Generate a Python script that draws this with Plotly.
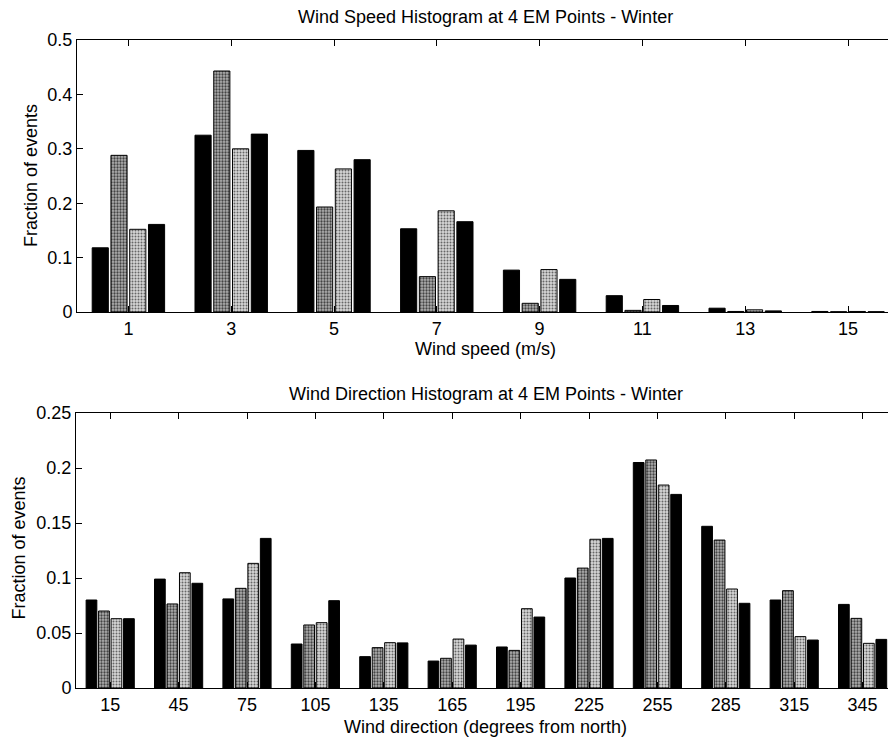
import plotly.graph_objects as go

# ---------------- data ----------------
speed_bins = [1, 3, 5, 7, 9, 11, 13, 15]
speed_p1 = [0.118, 0.325, 0.297, 0.153, 0.077, 0.030, 0.007, 0.001]
speed_p2 = [0.288, 0.443, 0.193, 0.065, 0.016, 0.003, 0.001, 0.0005]
speed_p3 = [0.152, 0.300, 0.263, 0.186, 0.078, 0.023, 0.004, 0.001]
speed_p4 = [0.161, 0.327, 0.280, 0.166, 0.060, 0.012, 0.002, 0.0005]

dir_bins = [15, 45, 75, 105, 135, 165, 195, 225, 255, 285, 315, 345]
dir_p1 = [0.080, 0.099, 0.081, 0.040, 0.0285, 0.0245, 0.0373, 0.100, 0.205, 0.147, 0.080, 0.076]
dir_p2 = [0.070, 0.0764, 0.0906, 0.0573, 0.0367, 0.027, 0.0342, 0.109, 0.2073, 0.1345, 0.0885, 0.0633]
dir_p3 = [0.063, 0.1048, 0.1133, 0.0594, 0.0412, 0.0445, 0.0721, 0.1352, 0.1845, 0.090, 0.0467, 0.0406]
dir_p4 = [0.063, 0.0952, 0.136, 0.0794, 0.041, 0.039, 0.0645, 0.136, 0.176, 0.077, 0.0436, 0.0442]

speed_ticks = [1, 3, 5, 7, 9, 11, 13, 15]
speed_yticks = [0, 0.1, 0.2, 0.3, 0.4, 0.5]
speed_ylabels = ["0", "0.1", "0.2", "0.3", "0.4", "0.5"]
dir_ticks = [15, 45, 75, 105, 135, 165, 195, 225, 255, 285, 315, 345]
dir_yticks = [0, 0.05, 0.1, 0.15, 0.2, 0.25]
dir_ylabels = ["0", "0.05", "0.1", "0.15", "0.2", "0.25"]

title_top = "Wind Speed Histogram at 4 EM Points - Winter"
title_bot = "Wind Direction Histogram at 4 EM Points - Winter"
xlabel_top = "Wind speed (m/s)"
xlabel_bot = "Wind direction (degrees from north)"
ylabel = "Fraction of events"

# ---------------- styling ----------------
W, H = 888, 738
FONT = "Liberation Sans, Arial, Helvetica, sans-serif"
FS = 18


def px(x):
    return x / W


def py(y):
    return 1 - y / H


def marker_for(i):
    line = dict(color="black", width=1)
    if i in (0, 3):
        return dict(color="black", line=line)
    if i == 1:
        return dict(color="#9a9a9a", line=line,
                    pattern=dict(shape=".", fgcolor="#444444", bgcolor="#b0b0b0",
                                 size=3, solidity=0.45, fillmode="replace"))
    return dict(color="#c6c6c6", line=line,
                pattern=dict(shape=".", fgcolor="#666666", bgcolor="#d6d6d6",
                             size=3, solidity=0.35, fillmode="replace"))


fig = go.Figure()
for i, s in enumerate([speed_p1, speed_p2, speed_p3, speed_p4]):
    fig.add_trace(go.Bar(x=speed_bins, y=s, name=f"Point {i+1}", marker=marker_for(i),
                         xaxis="x", yaxis="y", offsetgroup=str(i), showlegend=False))
for i, s in enumerate([dir_p1, dir_p2, dir_p3, dir_p4]):
    fig.add_trace(go.Bar(x=dir_bins, y=s, name=f"Point {i+1}", marker=marker_for(i),
                         xaxis="x2", yaxis="y2", offsetgroup=str(i), showlegend=False))

axis_common = dict(showline=True, linecolor="black", linewidth=1, ticks="inside",
                   ticklen=6, tickcolor="black", tickwidth=1, showgrid=False,
                   zeroline=False, automargin=False,
                   tickfont=dict(family=FONT, size=FS, color="black"))

fig.update_layout(
    width=W, height=H,
    margin=dict(l=0, r=0, t=0, b=0),
    paper_bgcolor="white", plot_bgcolor="white",
    barmode="group", bargap=0.27, bargroupgap=0.14,
    font=dict(family=FONT, size=FS, color="black"),
    xaxis=dict(domain=[px(77), 1], range=[0, (W - 77) / 51.4], anchor="y",
               tickvals=speed_ticks, mirror="ticks", **axis_common),
    yaxis=dict(domain=[py(312), py(40)], range=[0, 0.5], anchor="x",
               tickvals=speed_yticks, ticktext=speed_ylabels, **axis_common),
    xaxis2=dict(domain=[px(76), 1], range=[0, (W - 76) / 2.28], anchor="y2",
                tickvals=dir_ticks, mirror="ticks", **axis_common),
    yaxis2=dict(domain=[py(688), py(413)], range=[0, 0.25], anchor="x2",
                tickvals=dir_yticks, ticktext=dir_ylabels, **axis_common),
    annotations=[
        dict(text=title_top, x=px(486), y=py(17), xref="paper", yref="paper",
             xanchor="center", yanchor="middle", showarrow=False),
        dict(text=xlabel_top, x=px(486), y=py(349), xref="paper", yref="paper",
             xanchor="center", yanchor="middle", showarrow=False),
        dict(text=ylabel, x=px(31), y=py(176), xref="paper", yref="paper",
             xanchor="center", yanchor="middle", textangle=-90, showarrow=False),
        dict(text=title_bot, x=px(486), y=py(394), xref="paper", yref="paper",
             xanchor="center", yanchor="middle", showarrow=False),
        dict(text=xlabel_bot, x=px(486), y=py(727), xref="paper", yref="paper",
             xanchor="center", yanchor="middle", showarrow=False),
        dict(text=ylabel, x=px(18.5), y=py(548), xref="paper", yref="paper",
             xanchor="center", yanchor="middle", textangle=-90, showarrow=False),
    ],
)

fig.write_html(
    "out.html",
    config={"displayModeBar": False},
    post_script="document.body.style.margin='0';document.body.style.padding='0';"
                "document.body.style.overflow='hidden';"
                "document.documentElement.style.overflow='hidden';",
)
